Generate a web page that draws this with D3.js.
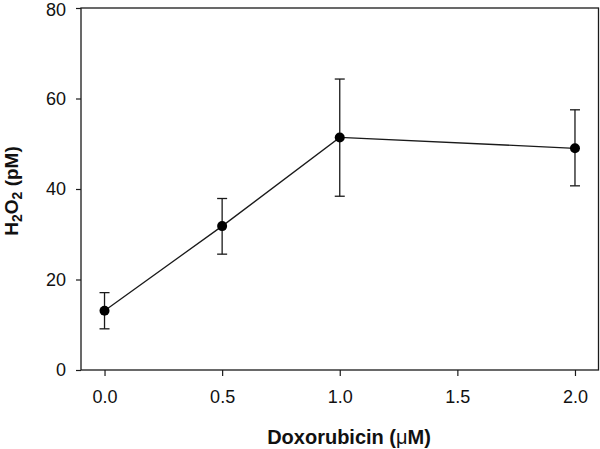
<!DOCTYPE html>
<html><head><meta charset="utf-8">
<script src="https://cdn.jsdelivr.net/npm/d3@7"></script>
<style>body{margin:0;background:#fff}svg{display:block}text{font-family:"Liberation Sans",Arial,sans-serif;fill:#111}</style>
</head><body>
<svg id="c" width="600" height="449"></svg>
<script>
const doses = [0.0, 0.5, 1.0, 2.0];
const means = [13.1, 31.8, 51.4, 49.0];
const upper = [17.1, 37.9, 64.3, 57.5];
const lower = [9.1, 25.6, 38.4, 40.7];
const xTicks = [0.0, 0.5, 1.0, 1.5, 2.0];
const yTicks = [0, 20, 40, 60, 80];

const svg = d3.select("#c");
const L = 81, R = 598.5, T = 8, B = 370;
const x = d3.scaleLinear().domain([-0.1, 2.1]).range([L, R]);
const y = d3.scaleLinear().domain([0, 80]).range([B, T]);
const ink = "#1a1a1a";

// frame
svg.append("rect").attr("x", L).attr("y", T).attr("width", R - L).attr("height", B - T)
  .attr("fill", "none").attr("stroke", ink).attr("stroke-width", 1.3);

// axes
const yAxis = d3.axisLeft(y).tickValues(yTicks).tickSize(5).tickPadding(10).tickFormat(d3.format("d"));
const gy = svg.append("g").attr("transform", `translate(${L},0)`).call(yAxis);
const xAxis = d3.axisBottom(x).tickValues(xTicks).tickSize(6).tickPadding(14).tickFormat(d3.format(".1f"));
const gx = svg.append("g").attr("transform", `translate(0,${B})`).call(xAxis);
[gx, gy].forEach(g => {
  g.select(".domain").remove();
  g.selectAll(".tick line").attr("stroke", ink).attr("stroke-width", 1.2);
  g.selectAll(".tick text").style("font-size", "18px").attr("fill", "#111").style("font-family", '"Liberation Sans",Arial,sans-serif');
});
// keep the top label inside the picture
gy.selectAll(".tick text").filter(d => d === 80).attr("dy", "0.42em");

// line
const line = d3.line().x((d, i) => x(doses[i])).y(d => y(d));
svg.append("path").datum(means).attr("d", line).attr("fill", "none").attr("stroke", ink).attr("stroke-width", 1.3);

// error bars
const eb = svg.append("g").attr("stroke", ink).attr("stroke-width", 1.3);
doses.forEach((d, i) => {
  eb.append("line").attr("x1", x(d)).attr("x2", x(d)).attr("y1", y(upper[i])).attr("y2", y(lower[i]));
  eb.append("line").attr("x1", x(d) - 5).attr("x2", x(d) + 5).attr("y1", y(upper[i])).attr("y2", y(upper[i]));
  eb.append("line").attr("x1", x(d) - 5).attr("x2", x(d) + 5).attr("y1", y(lower[i])).attr("y2", y(lower[i]));
});

// points
svg.append("g").selectAll("circle").data(means).join("circle")
  .attr("cx", (d, i) => x(doses[i])).attr("cy", d => y(d)).attr("r", 5).attr("fill", "#000");

// x title
const xt = svg.append("text").attr("x", 349).attr("y", 444).attr("text-anchor", "middle")
  .style("font-size", "20px").style("font-weight", "bold");
xt.append("tspan").text("Doxorubicin (");
xt.append("tspan").text("μ").style("font-weight", "normal");
xt.append("tspan").text("M)");

// y title
const yt = svg.append("text").attr("transform", `translate(18,${(T + B) / 2 + 2}) rotate(-90)`)
  .attr("text-anchor", "middle").style("font-size", "19px").style("font-weight", "bold");
yt.append("tspan").text("H");
yt.append("tspan").text("2").style("font-size", "14px").attr("dy", 4);
yt.append("tspan").text("O").attr("dy", -4);
yt.append("tspan").text("2").style("font-size", "14px").attr("dy", 4);
yt.append("tspan").text(" (pM)").attr("dy", -4);
</script>
</body></html>
